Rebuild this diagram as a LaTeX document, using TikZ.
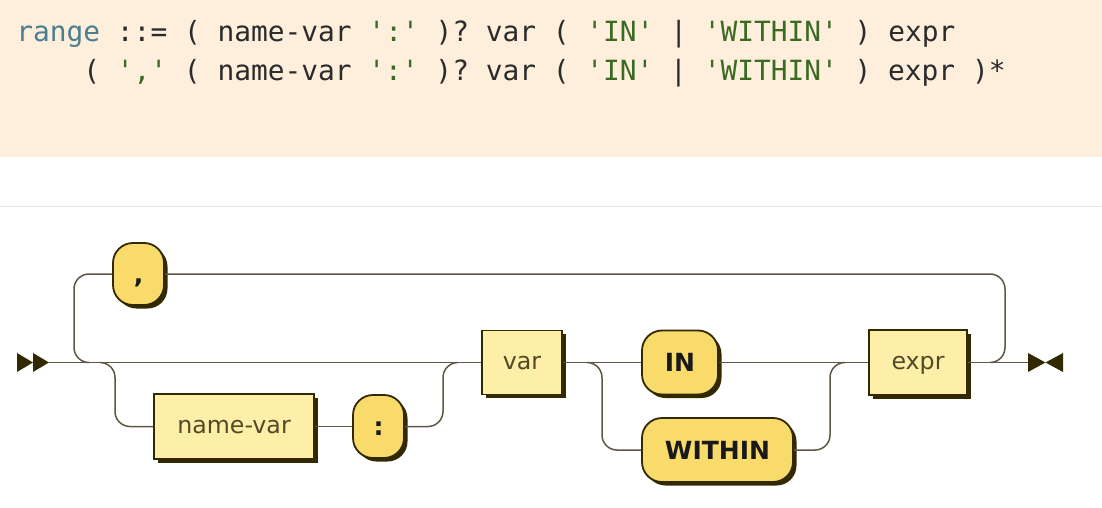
\documentclass[tikz,border=0pt]{standalone}
\usepackage{fontspec}
\setmainfont{DejaVu Sans}
\setmonofont{DejaVu Sans Mono}
\usetikzlibrary{shadows}

\definecolor{codebg}{HTML}{FDEFDC}
\definecolor{rangeblue}{HTML}{4B7E8F}
\definecolor{strgreen}{HTML}{3B6A22}
\definecolor{codeink}{HTML}{2B2B2B}
\definecolor{sepgray}{HTML}{E2E2E2}
\definecolor{railcolor}{HTML}{5E5744}
\definecolor{boxline}{HTML}{332900}
\definecolor{ntfill}{HTML}{FDEEA8}
\definecolor{tfill}{HTML}{F8DB6B}

\tikzset{every picture/.style={line width=0.75pt}}
\tikzset{
    rail/.style={color=railcolor, line width=1.5pt},
    nonterm/.style={draw=boxline, fill=ntfill, line width=1.8pt, inner sep=0pt,
        general shadow={fill=boxline, shadow xshift=3.5pt, shadow yshift=-3.5pt},
        font=\fontsize{23.7}{28}\selectfont, text=boxline!85, text height=13pt, text depth=0pt},
    term/.style={draw=boxline, fill=tfill, line width=1.8pt, inner sep=0pt, rounded corners=20pt,
        general shadow={fill=boxline, shadow xshift=3.5pt, shadow yshift=-3.5pt},
        font=\fontsize{25}{30}\selectfont\bfseries, text=black!90, text height=18pt, text depth=0pt},
    code/.style={font=\fontsize{27.85}{33}\ttfamily, text=codeink, inner sep=0pt}
}

\begin{document}
\begin{tikzpicture}[x=1pt, y=-1pt]
    \useasboundingbox (0,0) rectangle (1102,508);
    \fill[white] (0,0) rectangle (1102,508);
    \fill[codebg] (0,0) rectangle (1102,157);
    \draw[sepgray, line width=1.5pt] (0,206.5) -- (1102,206.5);
    \node[code, anchor=base west] (line1) at (16,42) {\textcolor{rangeblue}{range} ::= ( name-var \textcolor{strgreen}{':'} )? var ( \textcolor{strgreen}{'IN'} | \textcolor{strgreen}{'WITHIN'} ) expr};
    \node[code, anchor=base west] (line2) at (83,81) {( \textcolor{strgreen}{','} ( name-var \textcolor{strgreen}{':'} )? var ( \textcolor{strgreen}{'IN'} | \textcolor{strgreen}{'WITHIN'} ) expr )*};
    \node[term, minimum width=51pt, minimum height=62pt] (comma) at (138.5,274) {,};
    \node[nonterm, minimum width=160pt, minimum height=65pt] (namevar) at (234,426.5) {name-var};
    \node[term, minimum width=51pt, minimum height=63pt] (colon) at (378.5,426.5) {:};
    \node[nonterm, minimum width=80pt, minimum height=64pt] (var) at (522,362.5) {var};
    \node[term, minimum width=76pt, minimum height=64pt] (in) at (680,362.5) {IN};
    \node[term, minimum width=151pt, minimum height=64pt] (within) at (717.5,450) {WITHIN};
    \node[nonterm, minimum width=98pt, minimum height=65pt] (expr) at (918,362.5) {expr};
    \coordinate (start) at (49,362.5);
    \coordinate (end) at (1028,362.5);
    \coordinate (loopin) at (89,362.5);
    \coordinate (loopout) at (1005,362.5);
    \coordinate (optin) at (100,362.5);
    \coordinate (optout) at (443,362.5);
    \coordinate (altin) at (587,362.5);
    \coordinate (altout) at (830,362.5);
    \fill[boxline] (17,353) -- (33,362.5) -- (17,372) -- cycle;
    \fill[boxline] (33,353) -- (49,362.5) -- (33,372) -- cycle;
    \fill[boxline] (1028,353) -- (1045.5,362.5) -- (1028,372) -- cycle;
    \fill[boxline] (1063,353) -- (1045.5,362.5) -- (1063,372) -- cycle;
    \draw[rail] (start) -- (var);
    \draw[rail] (var) -- (in);
    \draw[rail] (in) -- (expr);
    \draw[rail] (expr) -- (end);
    \draw[rail] (namevar) -- (colon);
    \draw[rail, rounded corners=15pt] (loopin) -- ++(-15,0) |- (comma);
    \draw[rail, rounded corners=15pt] (comma) -| (loopout) -- ++(-15,0);
    \draw[rail, rounded corners=15pt] (optin) -- ++(15,0) |- (namevar);
    \draw[rail, rounded corners=15pt] (colon) -| (optout) -- ++(15,0);
    \draw[rail, rounded corners=15pt] (altin) -- ++(15,0) |- (within);
    \draw[rail, rounded corners=15pt] (within) -| (altout) -- ++(15,0);
\end{tikzpicture}
\end{document}
